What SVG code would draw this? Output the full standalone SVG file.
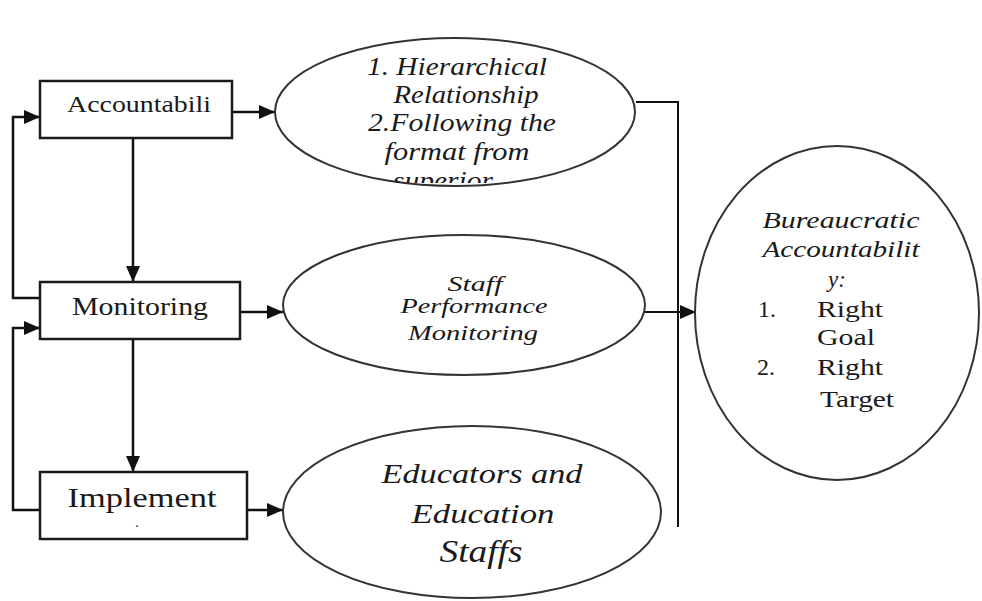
<svg xmlns="http://www.w3.org/2000/svg" width="982" height="601" viewBox="0 0 982 601">
<defs>
<style>
.box{fill:#fff;stroke:#1a1a1a;stroke-width:2.5}
.ell{fill:#fff;stroke:#333;stroke-width:2}
.ln{fill:none;stroke:#111;stroke-width:2.5}
.t{font-family:'Liberation Serif',serif;fill:#1a1a1a}
.i{font-family:'Liberation Serif',serif;font-style:italic}
</style>
<marker id="ah2" markerWidth="16" markerHeight="14" refX="16" refY="7" orient="auto" markerUnits="userSpaceOnUse" viewBox="0 0 16 14">
<path d="M0,0 L16,7 L0,14 Z" fill="#111"/>
</marker>
<clipPath id="c1"><rect x="270" y="30" width="380" height="153"/></clipPath>
</defs>
<rect width="982" height="601" fill="#fff"/>

<g id="connectors">
<line class="ln" x1="232" y1="112" x2="275" y2="112" marker-end="url(#ah2)"/>
<line class="ln" x1="240" y1="312" x2="283" y2="312" marker-end="url(#ah2)"/>
<line class="ln" x1="247" y1="510" x2="283" y2="510" marker-end="url(#ah2)"/>
<line class="ln" x1="133" y1="138" x2="133" y2="282" marker-end="url(#ah2)"/>
<line class="ln" x1="133" y1="339" x2="133" y2="472" marker-end="url(#ah2)"/>
<polyline class="ln" points="40,298 13,298 13,117 40,117" marker-end="url(#ah2)"/>
<polyline class="ln" points="40,510 13,510 13,328 40,328" marker-end="url(#ah2)"/>
<polyline class="ln" points="636,102 678,102 678,527" style="stroke-width:2"/>
<line class="ln" x1="645" y1="312" x2="696" y2="312" style="stroke-width:2" marker-end="url(#ah2)"/>
</g>

<g id="accountability">
<rect class="box" x="40" y="81" width="192" height="57"/>
<text class="t" x="139" y="112" font-size="24" text-anchor="middle" textLength="144" lengthAdjust="spacingAndGlyphs">Accountabili</text>
</g>

<g id="monitoring">
<rect class="box" x="40" y="282" width="200" height="57"/>
<text class="t" x="140" y="315" font-size="26" text-anchor="middle" textLength="136" lengthAdjust="spacingAndGlyphs">Monitoring</text>
</g>

<g id="implement">
<rect class="box" x="40" y="472" width="207" height="67"/>
<text class="t" x="142" y="507" font-size="27" text-anchor="middle" textLength="149" lengthAdjust="spacingAndGlyphs">Implement</text>
<text class="t" x="137" y="527" font-size="14" text-anchor="middle">.</text>
</g>

<g id="hierarchical">
<ellipse class="ell" cx="455" cy="112" rx="180" ry="74"/>
<g clip-path="url(#c1)">
<text class="t i" x="457" y="75" font-size="25" text-anchor="middle" textLength="180" lengthAdjust="spacingAndGlyphs">1. Hierarchical</text>
<text class="t i" x="466" y="103" font-size="25" text-anchor="middle" textLength="145" lengthAdjust="spacingAndGlyphs">Relationship</text>
<text class="t i" x="462" y="131" font-size="25" text-anchor="middle" textLength="188" lengthAdjust="spacingAndGlyphs">2.Following the</text>
<text class="t i" x="457" y="160" font-size="25" text-anchor="middle" textLength="145" lengthAdjust="spacingAndGlyphs">format from</text>
<text class="t i" x="443" y="189" font-size="25" text-anchor="middle" textLength="100" lengthAdjust="spacingAndGlyphs">superior</text>
</g>
</g>

<g id="staff-performance">
<ellipse class="ell" cx="464" cy="305" rx="181" ry="70"/>
<text class="t i" x="475" y="291" font-size="21" text-anchor="middle" textLength="55" lengthAdjust="spacingAndGlyphs">Staff</text>
<text class="t i" x="474" y="313" font-size="21" text-anchor="middle" textLength="147" lengthAdjust="spacingAndGlyphs">Performance</text>
<text class="t i" x="473" y="340" font-size="21" text-anchor="middle" textLength="130" lengthAdjust="spacingAndGlyphs">Monitoring</text>
</g>

<g id="educators">
<ellipse class="ell" cx="472" cy="512" rx="189" ry="86"/>
<text class="t i" x="482" y="483" font-size="27" text-anchor="middle" textLength="201" lengthAdjust="spacingAndGlyphs">Educators and</text>
<text class="t i" x="483" y="523" font-size="27" text-anchor="middle" textLength="143" lengthAdjust="spacingAndGlyphs">Education</text>
<text class="t i" x="481" y="562" font-size="32" text-anchor="middle" textLength="83" lengthAdjust="spacingAndGlyphs">Staffs</text>
</g>

<g id="bureaucratic">
<ellipse class="ell" cx="837" cy="313" rx="142" ry="167"/>
<text class="t i" x="841" y="228" font-size="23" text-anchor="middle" textLength="157" lengthAdjust="spacingAndGlyphs">Bureaucratic</text>
<text class="t i" x="841" y="257" font-size="23" text-anchor="middle" textLength="157" lengthAdjust="spacingAndGlyphs">Accountabilit</text>
<text class="t i" x="837" y="287" font-size="23" text-anchor="middle">y:</text>
<text class="t" x="758" y="317" font-size="24">1.</text>
<text class="t" x="817" y="317" font-size="24" textLength="66" lengthAdjust="spacingAndGlyphs">Right</text>
<text class="t" x="817" y="345" font-size="24" textLength="58" lengthAdjust="spacingAndGlyphs">Goal</text>
<text class="t" x="757" y="375" font-size="24">2.</text>
<text class="t" x="817" y="375" font-size="24" textLength="66" lengthAdjust="spacingAndGlyphs">Right</text>
<text class="t" x="820" y="407" font-size="24" textLength="74" lengthAdjust="spacingAndGlyphs">Target</text>
</g>
</svg>
